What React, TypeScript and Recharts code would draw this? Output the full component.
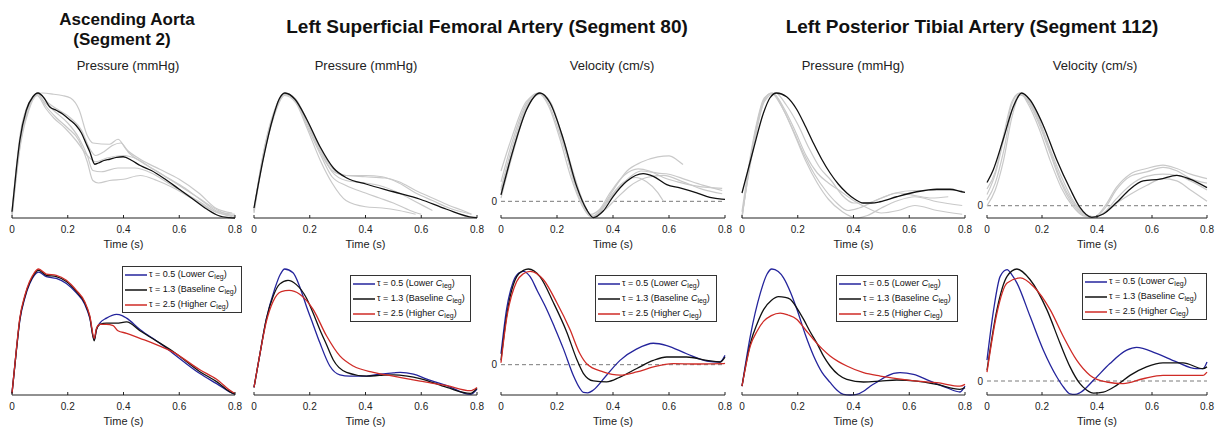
import { LineChart, Line, XAxis, YAxis, ReferenceLine, Legend } from 'recharts';

type Pt = [number, number]; // [time (s), value normalised to the panel's peak]

const TIME_TICKS = [0, 0.2, 0.4, 0.6, 0.8];
const TAU_VALUES = ['0.5', '1.3', '2.5'];
const TAU_NOTES = ['Lower', 'Baseline', 'Higher'];

// ---- measured (grey = individual subjects, black = mean) ----
const aortaPressureMean: Pt[] = [[0,5],[0.016,40],[0.028,62],[0.051,86],[0.075,97],[0.093,100],[0.115,96],[0.135,89],[0.16,86],[0.183,83],[0.21,78],[0.23,74],[0.249,68],[0.265,60],[0.279,53],[0.297,43],[0.31,44],[0.33,46],[0.351,47],[0.375,48.5],[0.399,49],[0.43,46],[0.46,42],[0.5,38],[0.55,31],[0.6,23],[0.65,15],[0.7,7],[0.74,2],[0.78,0.3],[0.8,0]];
const aortaPressureSubjects: Pt[][] = [
  [[0,3],[0.03,65],[0.06,90],[0.09,99],[0.11,100],[0.15,99],[0.18,98],[0.21,96],[0.24,87],[0.27,66],[0.29,60],[0.35,59],[0.38,63],[0.41,55],[0.46,47],[0.53,39],[0.6,31],[0.67,20],[0.73,8],[0.79,4]],
  [[0,0],[0.03,60],[0.06,88],[0.09,100],[0.12,90],[0.16,80],[0.2,72],[0.24,62],[0.27,45],[0.29,30],[0.31,28],[0.35,30],[0.4,31],[0.46,34],[0.52,30],[0.58,24],[0.65,15],[0.72,6],[0.79,1]],
  [[0,5],[0.03,68],[0.06,92],[0.09,99],[0.12,92],[0.16,84],[0.2,76],[0.24,64],[0.27,50],[0.29,38],[0.32,37],[0.38,40],[0.44,40],[0.5,36],[0.56,28],[0.62,20],[0.68,12],[0.74,4],[0.8,2]],
  [[0,4],[0.03,62],[0.06,89],[0.095,100],[0.13,92],[0.17,86],[0.21,80],[0.25,70],[0.28,55],[0.3,50],[0.33,53],[0.36,58],[0.39,60],[0.42,52],[0.47,44],[0.53,36],[0.6,26],[0.67,16],[0.74,6],[0.8,1]],
  [[0,2],[0.03,58],[0.06,86],[0.09,98],[0.12,88],[0.15,80],[0.19,72],[0.23,62],[0.27,50],[0.3,45],[0.34,48],[0.4,50],[0.45,47],[0.5,40],[0.56,32],[0.62,24],[0.68,14],[0.74,5],[0.8,3]],
];

const femoralPressureMean: Pt[] = [[0,8],[0.033,47],[0.069,81],[0.09,95],[0.111,100],[0.147,95],[0.189,79],[0.237,57],[0.285,40],[0.333,32],[0.404,27],[0.5,21],[0.596,15],[0.691,7],[0.787,0.5],[0.8,0.3]];
const femoralPressureSubjects: Pt[][] = [
  [[0,5],[0.03,48],[0.07,84],[0.11,100],[0.15,94],[0.19,76],[0.24,52],[0.28,38],[0.33,34],[0.4,34],[0.46,33],[0.52,28],[0.58,20],[0.64,14],[0.7,8],[0.78,3]],
  [[0,6],[0.03,46],[0.07,82],[0.11,99],[0.15,93],[0.19,74],[0.24,50],[0.28,33],[0.33,26],[0.4,20],[0.45,16],[0.5,12],[0.56,6],[0.6,3]],
  [[0,4],[0.03,44],[0.07,80],[0.11,98],[0.15,92],[0.19,72],[0.24,45],[0.28,28],[0.33,14],[0.4,9],[0.46,8],[0.52,6],[0.58,3]],
  [[0,7],[0.03,47],[0.07,83],[0.11,100],[0.15,95],[0.19,78],[0.24,55],[0.28,40],[0.33,34],[0.4,33],[0.47,32],[0.52,29],[0.58,22],[0.64,16],[0.7,10],[0.76,5],[0.78,3]],
  [[0,6],[0.03,46],[0.07,82],[0.11,99],[0.15,94],[0.19,77],[0.24,54],[0.28,37],[0.33,30],[0.4,28],[0.45,26],[0.52,20],[0.58,13],[0.64,6]],
];

const femoralVelocityMean: Pt[] = [[0,6],[0.044,48],[0.092,85],[0.139,100],[0.175,91],[0.223,57],[0.27,14],[0.306,-7.7],[0.33,-15],[0.365,-9],[0.401,4.6],[0.449,18.5],[0.508,25.5],[0.544,23],[0.592,15.4],[0.639,12.3],[0.699,7.7],[0.746,3.7],[0.788,2],[0.8,1.8]];
const femoralVelocitySubjects: Pt[][] = [
  [[0,28],[0.04,60],[0.09,92],[0.14,100],[0.18,88],[0.22,60],[0.26,25],[0.3,-5],[0.33,-14],[0.36,-6],[0.4,10],[0.45,28],[0.5,36],[0.56,41],[0.6,42],[0.63,38],[0.65,34]],
  [[0,12],[0.04,50],[0.09,88],[0.135,100],[0.17,90],[0.21,62],[0.25,30],[0.29,2],[0.32,-12],[0.35,-8],[0.39,8],[0.44,24],[0.49,30],[0.53,28],[0.58,22],[0.63,18],[0.7,14],[0.79,12]],
  [[0,18],[0.04,55],[0.09,90],[0.13,100],[0.17,88],[0.21,58],[0.25,22],[0.29,-4],[0.32,-14],[0.35,-10],[0.39,4],[0.43,16],[0.48,22],[0.52,18],[0.56,8],[0.58,0]],
  [[0,10],[0.04,46],[0.09,86],[0.14,99],[0.18,89],[0.22,56],[0.26,20],[0.3,-6],[0.33,-15],[0.36,-8],[0.4,6],[0.45,20],[0.5,28],[0.56,26],[0.6,25],[0.66,20],[0.72,15],[0.79,10]],
  [[0,3],[0.04,42],[0.09,84],[0.14,100],[0.18,90],[0.22,58],[0.26,18],[0.3,-8],[0.33,-14],[0.37,-8],[0.41,2],[0.46,14],[0.52,22],[0.58,24],[0.65,18],[0.72,11],[0.79,7]],
];

const tibialPressureMean: Pt[] = [[0,20],[0.041,55],[0.077,84],[0.1,96],[0.124,100],[0.16,97],[0.196,87],[0.226,74],[0.256,60],[0.286,47],[0.316,36],[0.346,27],[0.376,20],[0.405,15],[0.435,12],[0.465,12],[0.495,13],[0.555,17],[0.627,21],[0.699,23],[0.746,23],[0.788,21],[0.8,20.5]];
const tibialPressureSubjects: Pt[][] = [
  [[0,0],[0.04,60],[0.08,95],[0.105,100],[0.14,90],[0.18,72],[0.22,52],[0.26,35],[0.3,22],[0.34,12],[0.38,6],[0.42,8],[0.48,14],[0.55,20],[0.62,22],[0.7,22],[0.79,22]],
  [[0,5],[0.04,62],[0.08,96],[0.11,100],[0.15,86],[0.19,66],[0.23,45],[0.27,28],[0.31,15],[0.36,5],[0.41,0],[0.45,2],[0.5,8],[0.56,14],[0.62,17],[0.7,13],[0.79,10]],
  [[0,0],[0.04,58],[0.08,94],[0.11,100],[0.15,88],[0.19,70],[0.23,50],[0.27,36],[0.31,28],[0.35,22],[0.4,14],[0.45,8],[0.5,4],[0.56,6],[0.62,10],[0.7,6],[0.79,3]],
  [[0,2],[0.04,55],[0.08,93],[0.12,100],[0.16,90],[0.2,75],[0.24,56],[0.28,40],[0.32,30],[0.36,18],[0.4,12],[0.45,12],[0.5,16],[0.56,20],[0.62,18],[0.68,16],[0.74,17]],
];

const tibialVelocityMean: Pt[] = [[0,20.6],[0.023,32],[0.059,59],[0.096,88],[0.126,100],[0.156,94],[0.205,71],[0.253,41],[0.302,15],[0.338,-1.5],[0.381,-10.3],[0.423,-7.4],[0.472,3],[0.52,14.7],[0.568,22],[0.629,23.5],[0.69,27],[0.738,23.5],[0.8,16]];
const tibialVelocitySubjects: Pt[][] = [
  [[0,10],[0.03,28],[0.06,58],[0.09,90],[0.12,100],[0.15,92],[0.19,72],[0.23,46],[0.27,20],[0.31,2],[0.35,-8],[0.39,-10],[0.43,-2],[0.47,14],[0.52,26],[0.58,30],[0.64,34],[0.69,31],[0.74,24],[0.8,20]],
  [[0,5],[0.03,20],[0.06,48],[0.09,84],[0.12,99],[0.15,93],[0.19,74],[0.23,48],[0.27,22],[0.31,4],[0.35,-7],[0.39,-10],[0.43,-5],[0.47,6],[0.52,18],[0.58,26],[0.64,28],[0.69,27],[0.74,22],[0.8,14]],
  [[0,0],[0.03,14],[0.06,40],[0.09,78],[0.12,98],[0.15,94],[0.19,76],[0.23,50],[0.27,26],[0.31,6],[0.35,-6],[0.39,-10],[0.43,-6],[0.47,2],[0.52,10],[0.58,18],[0.64,24],[0.69,22],[0.74,14],[0.8,4]],
  [[0,15],[0.03,30],[0.06,62],[0.09,92],[0.12,100],[0.15,90],[0.19,68],[0.23,40],[0.27,16],[0.31,0],[0.35,-9],[0.39,-10],[0.43,0],[0.47,16],[0.52,28],[0.58,33],[0.64,36],[0.69,33],[0.74,28],[0.8,24]],
];

// ---- model, one series per tau (0.5, 1.3, 2.5) ----
const aortaPressureModel: Pt[][] = [
  [[0,1.3],[0.016,36],[0.028,59],[0.046,77],[0.063,88],[0.08,95],[0.095,97.5],[0.123,94],[0.159,92.5],[0.195,88.5],[0.231,81],[0.261,72],[0.279,61],[0.295,44],[0.303,52],[0.315,57],[0.339,61],[0.375,64],[0.395,63],[0.411,61],[0.459,52],[0.531,41],[0.578,33],[0.674,17],[0.734,9],[0.794,1],[0.8,0.5]],
  [[0,1.3],[0.016,36],[0.028,60],[0.046,78],[0.063,89],[0.08,96],[0.095,99],[0.123,95],[0.159,94],[0.195,90],[0.231,82],[0.261,73],[0.279,62],[0.295,43],[0.303,52],[0.315,56],[0.339,57],[0.375,57],[0.411,58],[0.459,51],[0.495,46],[0.578,34.5],[0.674,18.5],[0.734,10.6],[0.794,1.3],[0.8,1]],
  [[0,1.3],[0.016,37],[0.028,61],[0.046,79],[0.063,90],[0.08,97],[0.095,100],[0.123,96],[0.159,95],[0.195,91],[0.231,83],[0.261,74],[0.279,63],[0.295,45],[0.303,53],[0.315,56],[0.339,56],[0.363,55],[0.38,51],[0.411,49],[0.459,45],[0.507,41],[0.578,34],[0.674,20],[0.734,12.5],[0.794,2],[0.8,1.5]],
];
const femoralPressureModel: Pt[][] = [
  [[0,6],[0.02,31],[0.044,60],[0.074,84],[0.095,96],[0.11,100],[0.14,97],[0.164,86],[0.188,70.5],[0.212,56],[0.236,41.6],[0.272,23],[0.308,16],[0.344,15],[0.404,15],[0.452,16.6],[0.5,17.5],[0.524,18],[0.572,16.6],[0.62,12.6],[0.692,7.4],[0.776,0.5],[0.8,4.7]],
  [[0,6],[0.02,31],[0.044,60],[0.068,78],[0.092,88],[0.122,91],[0.152,87.6],[0.188,77],[0.212,65],[0.236,52],[0.26,40],[0.284,28],[0.332,18],[0.404,15],[0.45,15.5],[0.5,16],[0.55,15],[0.596,13],[0.692,6],[0.776,1.3],[0.8,5.3]],
  [[0,6],[0.02,31],[0.044,58],[0.068,74],[0.098,82],[0.126,83],[0.164,80],[0.212,68],[0.26,47],[0.308,31],[0.356,23],[0.428,18],[0.5,15],[0.596,11],[0.692,7.4],[0.776,3.4],[0.8,6]],
];
const femoralVelocityModel: Pt[][] = [
  [[0,11.4],[0.02,58],[0.044,87],[0.065,96],[0.08,97.6],[0.104,92],[0.13,77],[0.163,58],[0.19,40],[0.223,16.5],[0.258,-11],[0.28,-24],[0.294,-29],[0.31,-29.5],[0.33,-26.5],[0.377,-11],[0.425,4.5],[0.485,16.5],[0.544,22.4],[0.592,20],[0.663,11.4],[0.735,3.8],[0.782,2.8],[0.8,9.7]],
  [[0,4.5],[0.02,51],[0.056,92],[0.08,98.5],[0.098,100],[0.139,92],[0.187,65],[0.235,34],[0.27,6],[0.294,-9],[0.33,-17],[0.377,-18],[0.425,-13],[0.485,-4],[0.544,4.5],[0.592,8],[0.663,8],[0.735,4.5],[0.782,2.8],[0.8,8]],
  [[0,2],[0.02,48],[0.056,87],[0.08,95],[0.104,97.6],[0.151,89],[0.199,65],[0.246,37],[0.282,11.4],[0.306,1],[0.365,-7.6],[0.425,-11],[0.485,-7.6],[0.544,-2.4],[0.615,1],[0.699,0.7],[0.794,1],[0.8,1.5]],
];
const tibialPressureModel: Pt[][] = [
  [[0,7],[0.03,47],[0.066,81],[0.09,96],[0.107,100],[0.13,98],[0.149,93],[0.175,81],[0.197,68],[0.227,48],[0.257,31],[0.287,18],[0.316,10],[0.34,4],[0.364,0.5],[0.388,0],[0.412,0.5],[0.436,3],[0.46,7],[0.49,11],[0.519,15],[0.567,17.7],[0.615,16.4],[0.675,11],[0.734,5.8],[0.782,2.4],[0.8,7]],
  [[0,7],[0.03,41],[0.055,57],[0.078,68],[0.105,75],[0.131,78],[0.155,77.5],[0.173,76],[0.197,69],[0.221,60],[0.245,50],[0.269,41],[0.292,31],[0.316,23],[0.346,16],[0.376,12.4],[0.436,10.3],[0.496,11],[0.555,11.9],[0.627,11],[0.699,8.4],[0.782,4.5],[0.8,5.8]],
  [[0,7],[0.03,39],[0.055,51],[0.078,58.6],[0.105,63],[0.137,65],[0.165,63.5],[0.197,60],[0.227,52],[0.257,44],[0.286,37],[0.316,31],[0.346,26.5],[0.376,23],[0.436,17.7],[0.496,15],[0.555,13],[0.627,11],[0.699,9.8],[0.782,7],[0.8,8.4]],
];
const tibialVelocityModel: Pt[][] = [
  [[0,18.6],[0.024,63.5],[0.048,93.4],[0.073,99.4],[0.09,95],[0.109,87.4],[0.157,57.5],[0.205,27.5],[0.254,3.6],[0.28,-6],[0.302,-11.5],[0.32,-12],[0.338,-10.5],[0.387,0.6],[0.447,15.6],[0.508,27.5],[0.544,30],[0.616,24.6],[0.689,17],[0.761,11],[0.785,11],[0.8,17]],
  [[0,9.6],[0.036,63.5],[0.073,93.4],[0.109,100],[0.157,90.4],[0.218,63.5],[0.266,33.5],[0.302,12.6],[0.338,-2.4],[0.362,-8],[0.387,-10.8],[0.423,-9.9],[0.471,-3.9],[0.52,5],[0.58,12.6],[0.64,16.2],[0.713,16.2],[0.785,11],[0.8,12.6]],
  [[0,8],[0.036,60.5],[0.073,87.4],[0.121,92],[0.169,84.4],[0.23,63.5],[0.278,39.5],[0.326,18.6],[0.375,5],[0.435,-0.9],[0.495,-2.4],[0.568,2],[0.64,5],[0.725,5],[0.785,5],[0.8,8]],
];

const FONT = 'Arial, "Liberation Sans", Helvetica, sans-serif';
const TAU_COLORS = ['#24249c', '#111111', '#cf2b26'];
const GREY = '#c9c9c9';
const PAD_L = 16;
const PAD_R = 10;
const PAD_T = 4;
const AXIS_H = 34;

const rows = (pts: Pt[]) => pts.map(([t, v]) => ({ t, v }));

function LegendBox({ payload }: any) {
  const items = [...(payload || [])].sort(
    (a: any, b: any) => TAU_VALUES.indexOf(a.value) - TAU_VALUES.indexOf(b.value)
  );
  return (
    <div
      style={{
        border: '1px solid #333',
        background: '#fff',
        padding: '0 2px 0 2px',
        fontSize: 9,
        lineHeight: '15px',
        color: '#111',
        whiteSpace: 'nowrap',
        overflow: 'hidden',
        fontFamily: FONT,
      }}
    >
      {items.map((p: any) => {
        const i = TAU_VALUES.indexOf(p.value);
        return (
          <div key={p.value} style={{ display: 'flex', alignItems: 'center' }}>
            <svg width={22} height={6} style={{ marginRight: 2, flex: 'none' }}>
              <line x1={0} y1={3} x2={22} y2={3} stroke={TAU_COLORS[i]} strokeWidth={1.5} />
            </svg>
            <span>
              τ = {p.value} ({TAU_NOTES[i]}&nbsp;<i>C</i>
              <span style={{ fontSize: 7, position: 'relative', top: 2 }}>leg</span>)
            </span>
          </div>
        );
      })}
    </div>
  );
}

interface PanelProps {
  x0: number;
  x1: number;
  top: number;
  axisY: number;
  yMin?: number;
  grey?: Pt[][];
  mean?: Pt[];
  model?: Pt[][];
  legend?: { x: number; y: number; w: number };
  zero?: boolean;
}

function Panel({ x0, x1, top, axisY, yMin = 0, grey = [], mean, model, legend, zero }: PanelProps) {
  const left = x0 - PAD_L;
  const chartTop = top - PAD_T;
  return (
    <div style={{ position: 'absolute', left, top: chartTop }}>
      <LineChart
        width={x1 - x0 + PAD_L + PAD_R}
        height={axisY - top + PAD_T + AXIS_H}
        margin={{ top: PAD_T, right: PAD_R, bottom: 0, left: PAD_L }}
      >
        <XAxis
          dataKey="t"
          type="number"
          domain={[0, 0.8]}
          ticks={TIME_TICKS}
          height={AXIS_H}
          tickSize={-3}
          tickMargin={11}
          stroke="#222"
          tick={{ fontSize: 10, fill: '#222' }}
          label={{ value: 'Time (s)', position: 'insideBottom', offset: 4, fontSize: 11, fill: '#222' }}
        />
        <YAxis hide type="number" domain={[yMin, 100]} />
        {zero && (
          <ReferenceLine
            y={0}
            stroke="#7a7a7a"
            strokeDasharray="4 3"
            label={{ value: '0', position: 'left', offset: 4, fontSize: 10, fill: '#222' }}
          />
        )}
        {grey.map((g, i) => (
          <Line
            key={'g' + i}
            data={rows(g)}
            dataKey="v"
            type="monotone"
            stroke={GREY}
            strokeWidth={1.2}
            dot={false}
            activeDot={false}
            legendType="none"
            isAnimationActive={false}
          />
        ))}
        {mean && (
          <Line
            data={rows(mean)}
            dataKey="v"
            type="monotone"
            stroke="#111"
            strokeWidth={1.3}
            dot={false}
            activeDot={false}
            legendType="none"
            isAnimationActive={false}
          />
        )}
        {(model || []).map((m, i) => (
          <Line
            key={'m' + i}
            name={TAU_VALUES[i]}
            data={rows(m)}
            dataKey="v"
            type="monotone"
            stroke={TAU_COLORS[i]}
            strokeWidth={1.3}
            dot={false}
            activeDot={false}
            isAnimationActive={false}
          />
        ))}
        {legend && (
          <Legend
            layout="vertical"
            align="center"
            verticalAlign="middle"
            content={(props: any) => <LegendBox {...props} />}
            wrapperStyle={{ left: legend.x - left, top: legend.y - chartTop, width: legend.w }}
          />
        )}
      </LineChart>
    </div>
  );
}

const subtitleStyle = (cx: number) => ({
  position: 'absolute' as const,
  left: cx - 100,
  width: 200,
  top: 58,
  textAlign: 'center' as const,
  fontSize: 13,
  lineHeight: '15px',
  color: '#222',
});

const titleStyle = (cx: number, w: number, size: number) => ({
  position: 'absolute' as const,
  left: cx - w / 2,
  width: w,
  textAlign: 'center' as const,
  fontSize: size,
  fontWeight: 700,
  lineHeight: '18px',
  color: '#111',
});

export default function App() {
  const T = { top: 93, axisY: 218 };
  const B = { top: 269, axisY: 395 };
  return (
    <div
      style={{
        position: 'absolute',
        left: 0,
        top: 0,
        width: 1218,
        height: 428,
        overflow: 'hidden',
        background: '#fff',
        fontFamily: FONT,
      }}
    >
      <div style={{ ...titleStyle(127, 240, 17), top: 11 }}>Ascending Aorta</div>
      <div style={{ ...titleStyle(122, 240, 17), top: 31 }}>(Segment 2)</div>
      <div style={{ ...titleStyle(487, 500, 19), top: 18 }}>Left Superficial Femoral Artery (Segment 80)</div>
      <div style={{ ...titleStyle(972, 500, 19), top: 18 }}>Left Posterior Tibial Artery (Segment 112)</div>

      <div style={subtitleStyle(128)}>Pressure (mmHg)</div>
      <div style={subtitleStyle(366)}>Pressure (mmHg)</div>
      <div style={subtitleStyle(612)}>Velocity (cm/s)</div>
      <div style={subtitleStyle(853)}>Pressure (mmHg)</div>
      <div style={subtitleStyle(1095)}>Velocity (cm/s)</div>

      <Panel x0={12} x1={235} {...T} grey={aortaPressureSubjects} mean={aortaPressureMean} />
      <Panel x0={254} x1={477} {...T} grey={femoralPressureSubjects} mean={femoralPressureMean} />
      <Panel x0={501} x1={725} {...T} yMin={-15.4} zero grey={femoralVelocitySubjects} mean={femoralVelocityMean} />
      <Panel x0={742} x1={965} {...T} grey={tibialPressureSubjects} mean={tibialPressureMean} />
      <Panel x0={987} x1={1207} {...T} yMin={-10.9} zero grey={tibialVelocitySubjects} mean={tibialVelocityMean} />

      <Panel x0={12} x1={235} {...B} model={aortaPressureModel} legend={{ x: 122, y: 266, w: 120 }} />
      <Panel x0={254} x1={477} {...B} model={femoralPressureModel} legend={{ x: 350, y: 275, w: 121 }} />
      <Panel x0={501} x1={725} {...B} yMin={-31.7} zero model={femoralVelocityModel} legend={{ x: 595, y: 275, w: 122 }} />
      <Panel x0={742} x1={965} {...B} model={tibialPressureModel} legend={{ x: 836, y: 275, w: 122 }} />
      <Panel x0={987} x1={1207} {...B} yMin={-12.5} zero model={tibialVelocityModel} legend={{ x: 1082, y: 273, w: 125 }} />
    </div>
  );
}
